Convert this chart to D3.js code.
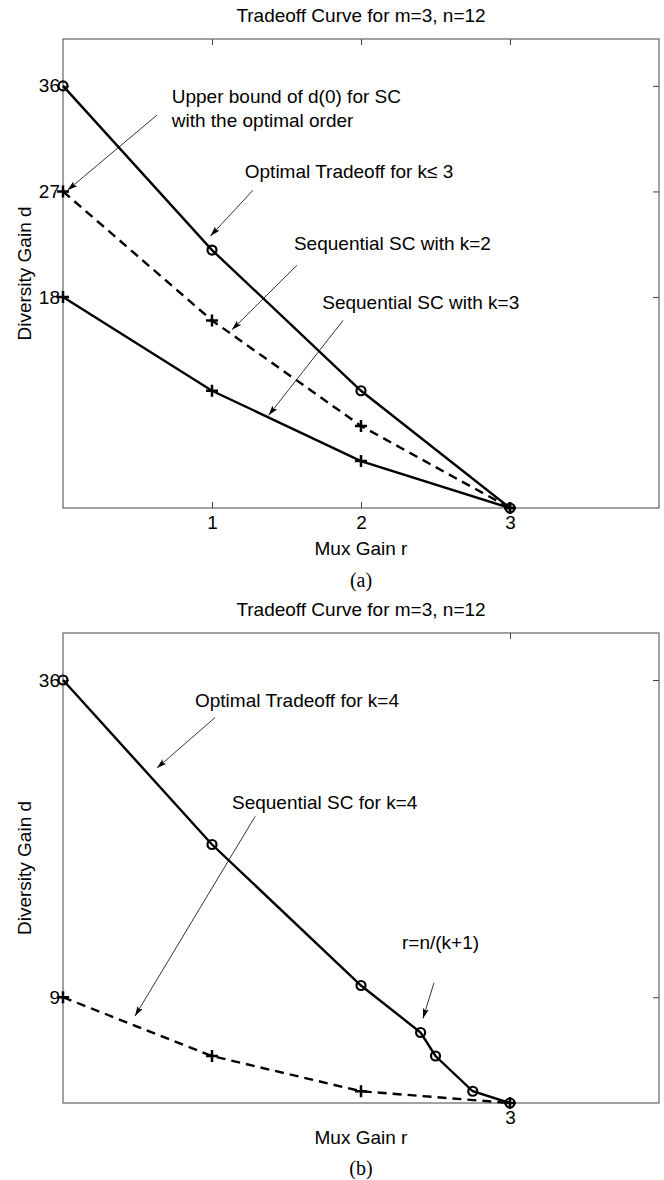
<!DOCTYPE html>
<html>
<head>
<meta charset="utf-8">
<script src="https://cdn.jsdelivr.net/npm/d3@7"></script>
<style>
  body { margin: 0; background: #fff; }
  svg text { font-family: "Liberation Sans", Arial, Helvetica, sans-serif; fill: #000; }
</style>
</head>
<body>
<div id="chart"></div>
<script>
// Panel (a) data
var rA = [0, 1, 2, 3];
var optimalA = [36, 22, 10, 0];
var seqK2 = [27, 16, 7, 0];
var seqK3 = [18, 10, 4, 0];
var xTicksA = [1, 2, 3];
var yTicksA = [18, 27, 36];

// Panel (b) data
var rOptB = [0, 1, 2, 2.4, 2.5, 2.75, 3];
var optimalB = [36, 22, 10, 6, 4, 1, 0];
var rSeqB = [0, 1, 2, 3];
var seqK4 = [9, 4, 1, 0];
var xTicksB = [3];
var yTicksB = [9, 36];

var titleText = "Tradeoff Curve for m=3, n=12";
var xLabel = "Mux Gain r";
var yLabel = "Diversity Gain d";

// annotation texts and arrows, anchored in data units (r, d)
var notesA = [
  {lines: ["Upper bound of d(0) for SC", "with the optimal order"], at: [0.73, 35.15], from: [0.63, 33.5], to: [0.03, 27.1]},
  {lines: ["Optimal Tradeoff for k\u2264 3"], at: [1.22, 28.7], from: [1.275, 27.1], to: [0.99, 23.2]},
  {lines: ["Sequential SC with k=2"], at: [1.55, 22.6], from: [1.57, 20.7], to: [1.134, 15.2]},
  {lines: ["Sequential SC with k=3"], at: [1.74, 17.5], from: [1.88, 16.0], to: [1.38, 7.9]}
];
var notesB = [
  {lines: ["Optimal Tradeoff for k=4"], at: [0.886, 34.3], from: [1.02, 32.8], to: [0.63, 28.5]},
  {lines: ["Sequential SC for k=4"], at: [1.134, 25.6], from: [1.29, 24.4], to: [0.483, 7.4]},
  {lines: ["r=n/(k+1)"], at: [2.275, 13.65], from: [2.49, 10.24], to: [2.416, 7.2]}
];

var W = 664, H = 1180;
var svg = d3.select("#chart").append("svg")
  .attr("width", W).attr("height", H);

var defs = svg.append("defs");
defs.append("marker")
  .attr("id", "arrow")
  .attr("viewBox", "0 0 10 6")
  .attr("refX", 10).attr("refY", 3)
  .attr("markerWidth", 10).attr("markerHeight", 6)
  .attr("markerUnits", "userSpaceOnUse")
  .attr("orient", "auto")
  .append("path")
  .attr("d", "M0,0L10,3L0,6L2,3Z")
  .attr("fill", "#000");

var fontSize = 19;

function drawPanel(cfg) {
  var x = d3.scaleLinear().domain([0, 4]).range([63, 659]);
  var y = d3.scaleLinear().domain([0, 40]).range([cfg.bottom, cfg.top]);
  var g = svg.append("g");

  // box
  g.append("rect")
    .attr("x", x(0)).attr("y", y(40))
    .attr("width", x(4) - x(0)).attr("height", y(0) - y(40))
    .attr("fill", "none").attr("stroke", "#444").attr("stroke-width", 1);

  // axes with inward ticks
  var axB = g.append("g").attr("transform", `translate(0,${y(0)})`)
    .call(d3.axisBottom(x).tickValues(cfg.xTicks).tickFormat(d3.format("d")).tickSizeInner(-6).tickSizeOuter(0).tickPadding(8));
  var axT = g.append("g").attr("transform", `translate(0,${y(40)})`)
    .call(d3.axisTop(x).tickValues(cfg.xTicks).tickSizeInner(-6).tickSizeOuter(0).tickFormat(""));
  var axL = g.append("g").attr("transform", `translate(${x(0)},0)`)
    .call(d3.axisLeft(y).tickValues(cfg.yTicks).tickFormat(d3.format("d")).tickSizeInner(-6).tickSizeOuter(0).tickPadding(3));
  var axR = g.append("g").attr("transform", `translate(${x(4)},0)`)
    .call(d3.axisRight(y).tickValues(cfg.yTicks).tickSizeInner(-6).tickSizeOuter(0).tickFormat(""));
  [axB, axT, axL, axR].forEach(function(a) {
    a.select(".domain").remove();
    a.selectAll(".tick line").attr("stroke", "#444");
    a.selectAll("text")
      .style("font-size", fontSize + "px")
      .attr("font-family", null);
  });

  // title and axis labels
  g.append("text")
    .attr("x", (x(0) + x(4)) / 2).attr("y", cfg.top - 24)
    .attr("dy", "0.35em").attr("text-anchor", "middle")
    .style("font-size", fontSize + "px")
    .text(titleText);
  g.append("text")
    .attr("x", (x(0) + x(4)) / 2).attr("y", cfg.bottom + cfg.xLabelOff)
    .attr("dy", "0.35em").attr("text-anchor", "middle")
    .style("font-size", fontSize + "px")
    .text(xLabel);
  g.append("text")
    .attr("transform", `translate(24,${(cfg.top + cfg.bottom) / 2}) rotate(-90)`)
    .attr("dy", "0.35em").attr("text-anchor", "middle")
    .style("font-size", fontSize + "px")
    .text(yLabel);
  g.append("text")
    .attr("x", (x(0) + x(4)) / 2).attr("y", cfg.bottom + cfg.capOff)
    .attr("dy", "0.35em").attr("text-anchor", "middle")
    .style("font-family", "'Liberation Serif', 'Times New Roman', serif")
    .style("font-size", "20px")
    .text(cfg.caption);

  // series
  var line = d3.line().x(d => x(d[0])).y(d => y(d[1]));
  cfg.series.forEach(function(s) {
    var pts = s.r.map((r, i) => [r, s.d[i]]);
    g.append("path")
      .attr("d", line(pts))
      .attr("fill", "none").attr("stroke", "#000").attr("stroke-width", 2.4)
      .attr("stroke-dasharray", s.dashed ? "9,6" : null);
    if (s.marker === "o") {
      g.selectAll(null).data(pts).enter().append("circle")
        .attr("cx", d => x(d[0])).attr("cy", d => y(d[1])).attr("r", 4.5)
        .attr("fill", "none").attr("stroke", "#000").attr("stroke-width", 2.2);
    } else {
      g.selectAll(null).data(pts).enter().append("path")
        .attr("transform", d => `translate(${x(d[0])},${y(d[1])})`)
        .attr("d", "M-6,0H6M0,-6V6")
        .attr("stroke", "#000").attr("stroke-width", 2.5);
    }
  });

  // annotations
  cfg.notes.forEach(function(n) {
    var t = g.append("text")
      .attr("x", x(n.at[0])).attr("y", y(n.at[1]))
      .style("font-size", fontSize + "px");
    n.lines.forEach(function(l, i) {
      t.append("tspan").attr("x", x(n.at[0]))
        .attr("dy", i === 0 ? "0.35em" : "1.3em").text(l);
    });
    g.append("line")
      .attr("x1", x(n.from[0])).attr("y1", y(n.from[1]))
      .attr("x2", x(n.to[0])).attr("y2", y(n.to[1]))
      .attr("stroke", "#000").attr("stroke-width", 0.8)
      .attr("marker-end", "url(#arrow)");
  });
}

drawPanel({
  top: 39, bottom: 508, xTicks: xTicksA, yTicks: yTicksA,
  xLabelOff: 40, capOff: 72, caption: "(a)",
  series: [
    {r: rA, d: optimalA, marker: "o", dashed: false},
    {r: rA, d: seqK2, marker: "+", dashed: true},
    {r: rA, d: seqK3, marker: "+", dashed: false}
  ],
  notes: notesA
});

drawPanel({
  top: 633, bottom: 1103, xTicks: xTicksB, yTicks: yTicksB,
  xLabelOff: 34, capOff: 65, caption: "(b)",
  series: [
    {r: rOptB, d: optimalB, marker: "o", dashed: false},
    {r: rSeqB, d: seqK4, marker: "+", dashed: true}
  ],
  notes: notesB
});
</script>
</body>
</html>
